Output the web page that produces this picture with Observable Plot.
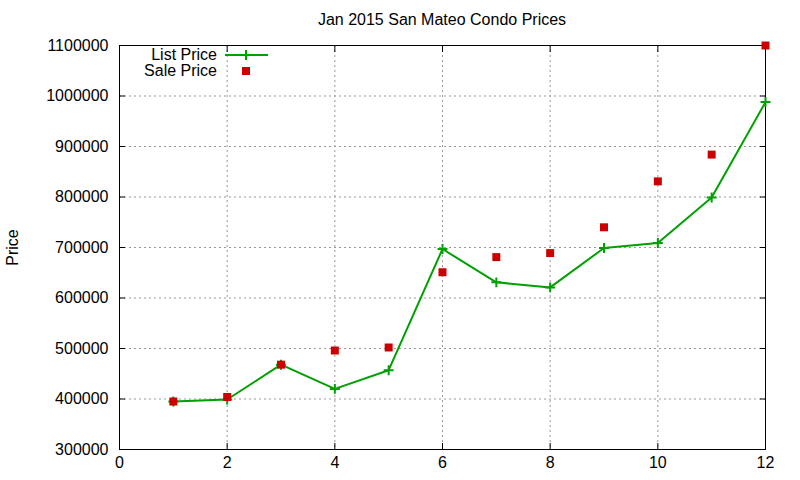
<!DOCTYPE html>
<html><head><meta charset="utf-8">
<script src="https://cdn.jsdelivr.net/npm/d3@7"></script>
<script src="https://cdn.jsdelivr.net/npm/@observablehq/plot@0.6"></script>
<style>
body{margin:0;background:#fff;font-family:"Liberation Sans",Arial,sans-serif;}
#wrap{position:relative;width:800px;height:480px;overflow:hidden;}
#title{position:absolute;left:119px;width:646px;top:0;height:30px;text-align:center;font-size:16px;line-height:18px;padding-top:11px;box-sizing:border-box;color:#000;}
#chart{position:absolute;left:0;top:30px;}
#legend{position:absolute;left:107px;top:47px;font-size:16px;color:#000;}
.row{display:flex;align-items:center;height:16px;}
.lab{width:117px;text-align:right;padding-right:7px;box-sizing:border-box;}
</style></head>
<body>
<div id="wrap">
  <div id="title">Jan 2015 San Mateo Condo Prices</div>
  <div id="chart"></div>
  <div id="legend"></div>
</div>
<script>
const months = [1,2,3,4,5,6,7,8,9,10,11,12];
const listPrice = [395000,399000,468000,420000,457000,697000,631000,621000,699000,709000,799000,988000];
const salePrice = [395000,404000,468000,496000,502000,651000,681000,689000,740000,831000,884000,1100000];
const xTicks = [0,2,4,6,8,10,12];
const yTicks = [300000,400000,500000,600000,700000,800000,900000,1000000,1100000];
const seriesNames = ["List Price","Sale Price"];
const seriesColors = ["#00a000","#cc0000"];

const listData = months.map((m,i)=>({month:m, price:listPrice[i]}));
const saleData = months.map((m,i)=>({month:m, price:salePrice[i]}));

const chart = Plot.plot({
  width: 800,
  height: 450,
  marginLeft: 119,
  marginRight: 35,
  marginTop: 15,
  marginBottom: 31,
  style: {fontFamily: '"Liberation Sans", Arial, sans-serif', fontSize: "16px", color: "#000", background: "#fff"},
  x: {domain: [0,12]},
  y: {domain: [300000,1100000]},
  marks: [
    Plot.gridX(xTicks, {stroke: "#999", strokeOpacity: 1, strokeDasharray: "2,3"}),
    Plot.gridY(yTicks, {stroke: "#999", strokeOpacity: 1, strokeDasharray: "2,3"}),
    Plot.axisX(xTicks, {anchor: "bottom", tickSize: -6, tickPadding: 13, label: null, tickFormat: d => String(d), fontSize: 16}),
    Plot.axisX(xTicks, {anchor: "top", tickSize: -6, label: null, tickFormat: () => ""}),
    Plot.axisY(yTicks, {anchor: "left", tickSize: -6, tickPadding: 17, label: "Price", labelAnchor: "center", labelArrow: "none", labelOffset: 113, tickFormat: d => String(d), fontSize: 16}),
    Plot.axisY(yTicks, {anchor: "right", tickSize: -6, label: null, tickFormat: () => ""}),
    Plot.frame({stroke: "#000", strokeWidth: 1}),
    Plot.line(listData, {x: "month", y: "price", stroke: seriesColors[0], strokeWidth: 2}),
    Plot.dot(listData, {x: "month", y: "price", symbol: "plus", r: 3.3, stroke: seriesColors[0], strokeWidth: 2}),
    Plot.dot(saleData, {x: "month", y: "price", symbol: "square", r: 4.5, fill: seriesColors[1], stroke: "none"})
  ]
});
document.getElementById("chart").appendChild(chart);

// legend
const legend = d3.select("#legend");
seriesNames.forEach((name, i) => {
  const row = legend.append("div").attr("class", "row");
  row.append("div").attr("class", "lab").text(name);
  const svg = row.append("svg").attr("width", 46).attr("height", 16);
  if (i === 0) {
    svg.append("line").attr("x1", 1).attr("x2", 44).attr("y1", 8).attr("y2", 8).attr("stroke", seriesColors[0]).attr("stroke-width", 2);
    svg.append("path").attr("d", d3.symbol(d3.symbolPlus, Math.PI * 3.3 * 3.3)()).attr("transform", "translate(22,8)").attr("stroke", seriesColors[0]).attr("stroke-width", 2).attr("fill", "none");
  } else {
    svg.append("rect").attr("x", 18).attr("y", 4).attr("width", 8).attr("height", 8).attr("fill", seriesColors[1]);
  }
});
</script>
</body></html>
